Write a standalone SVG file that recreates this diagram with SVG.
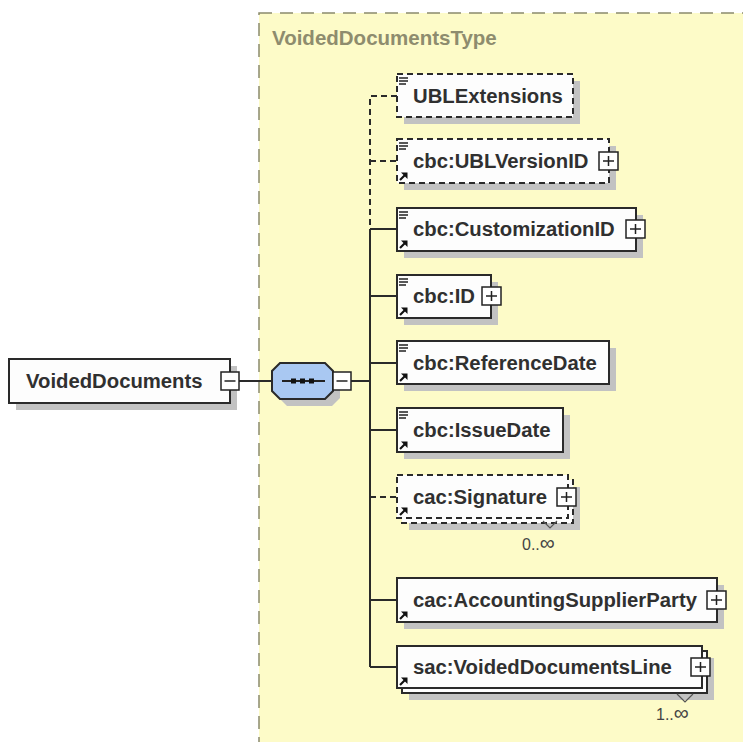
<svg xmlns="http://www.w3.org/2000/svg" width="743" height="742" viewBox="0 0 743 742">
<style>
.lbl{font-family:"Liberation Sans",Arial,sans-serif;font-weight:bold;font-size:20.3px;fill:#303030}
.occ{font-family:"Liberation Sans",Arial,sans-serif;font-size:16px;fill:#444}
.inf{font-size:21px}
.box{fill:#fdfdfd;stroke:#2a2a2a;stroke-width:2}
.dbox{fill:#fdfdfd;stroke:#2a2a2a;stroke-width:2;stroke-dasharray:6,4}
.sh{fill:#c2c2c2}
.con{fill:none;stroke:#2a2a2a;stroke-width:2}
.dcon{fill:none;stroke:#2a2a2a;stroke-width:2;stroke-dasharray:6,4}
.pm{fill:#fff;stroke:#222;stroke-width:1.5}
</style>
<defs>
<g id="doc"><path d="M2,4H11M2,7H11M2,10H9" stroke="#222" stroke-width="1.6" fill="none"/></g>
<g id="ref"><path d="M3,-3L8,-8" stroke="#111" stroke-width="2.2" fill="none"/><polygon points="10.5,-10.5 4,-10.5 10.5,-4" fill="#111"/></g>
<g id="plus"><rect class="pm" x="0" y="0" width="19" height="18"/><path d="M4,9H15M9.5,4V14" stroke="#222" stroke-width="1.5"/></g>
<g id="minus"><rect class="pm" x="0" y="0" width="18" height="18"/><path d="M3.5,9H14.5" stroke="#222" stroke-width="1.5"/></g>
</defs>
<rect x="0" y="0" width="743" height="742" fill="#fff"/>
<g id="VoidedDocumentsType">
<rect x="259" y="13" width="500" height="740" fill="#fdfbc8" stroke="#8b8a6c" stroke-width="1.5" stroke-dasharray="13,8"/>
<text x="272" y="45" style="font-family:'Liberation Sans',Arial,sans-serif;font-weight:bold;font-size:20.5px;fill:#8e8c6e">VoidedDocumentsType</text>
</g>
<g id="connectors">
<path class="con" d="M239,381H272M351,381H370"/>
<path class="dcon" d="M397,96H370V229"/>
<path class="dcon" d="M370,161H397"/>
<path class="dcon" d="M370,497H397"/>
<path class="con" d="M370,229V667M370,229H397M370,296H397M370,363H397M370,430H397M370,600H397M370,667H397"/>
</g>
<g id="VoidedDocuments">
<rect class="sh" x="16" y="366" width="221" height="44"/>
<rect class="box" x="9" y="359" width="221" height="44"/>
<text class="lbl" x="26" y="388">VoidedDocuments</text>
<use href="#minus" x="221" y="372"/>
</g>
<g id="sequence">
<polygon class="sh" points="287,370 332,370 340,378 340,398 332,406 287,406 279,398 279,378"/>
<polygon points="280,363 325,363 333,371 333,391 325,399 280,399 272,391 272,371" fill="#a9c8f2" stroke="#2a2a2a" stroke-width="2"/>
<path d="M282,381H325" stroke="#222" stroke-width="1.8"/>
<rect x="291" y="378.5" width="5" height="5" fill="#111"/>
<rect x="300" y="378.5" width="5" height="5" fill="#111"/>
<rect x="309" y="378.5" width="5" height="5" fill="#111"/>
<use href="#minus" x="333" y="372"/>
</g>
<g id="UBLExtensions">
<rect class="sh" x="404" y="81" width="176" height="43"/>
<rect class="dbox" x="397" y="74" width="176" height="43"/>
<use href="#doc" x="397" y="74"/>
<text class="lbl" x="413" y="103">UBLExtensions</text>
</g>
<g id="UBLVersionID">
<rect class="sh" x="404" y="146" width="212" height="44"/>
<rect class="dbox" x="397" y="139" width="212" height="44"/>
<use href="#doc" x="397" y="139"/>
<use href="#ref" x="397" y="183"/>
<text class="lbl" x="413" y="168">cbc:UBLVersionID</text>
<use href="#plus" x="599" y="152"/>
</g>
<g id="CustomizationID">
<rect class="sh" x="404" y="215" width="239" height="43"/>
<rect class="box" x="397" y="208" width="239" height="43"/>
<use href="#doc" x="397" y="208"/>
<use href="#ref" x="397" y="251"/>
<text class="lbl" x="413" y="236">cbc:CustomizationID</text>
<use href="#plus" x="626" y="220"/>
</g>
<g id="ID">
<rect class="sh" x="404" y="282" width="94" height="43"/>
<rect class="box" x="397" y="275" width="94" height="43"/>
<use href="#doc" x="397" y="275"/>
<use href="#ref" x="397" y="318"/>
<text class="lbl" x="413" y="303">cbc:ID</text>
<use href="#plus" x="482" y="287"/>
</g>
<g id="ReferenceDate">
<rect class="sh" x="404" y="348" width="212" height="43"/>
<rect class="box" x="397" y="341" width="212" height="43"/>
<use href="#doc" x="397" y="341"/>
<use href="#ref" x="397" y="384"/>
<text class="lbl" x="413" y="370">cbc:ReferenceDate</text>
</g>
<g id="IssueDate">
<rect class="sh" x="404" y="415" width="166" height="44"/>
<rect class="box" x="397" y="408" width="166" height="44"/>
<use href="#doc" x="397" y="408"/>
<use href="#ref" x="397" y="452"/>
<text class="lbl" x="413" y="437">cbc:IssueDate</text>
</g>
<g id="Signature">
<rect class="sh" x="409" y="487" width="171" height="43"/>
<rect class="dbox" x="402" y="480" width="171" height="43"/>
<rect class="dbox" x="397" y="475" width="171" height="43"/>
<use href="#ref" x="397" y="518"/>
<text class="lbl" x="413" y="504">cac:Signature</text>
<use href="#plus" x="557" y="488"/>
<path d="M543,521L550,528L557,521" fill="none" stroke="#555" stroke-width="1.2"/>
<text class="occ" x="522" y="550">0..<tspan class="inf">∞</tspan></text>
</g>
<g id="AccountingSupplierParty">
<rect class="sh" x="404" y="585" width="320" height="44"/>
<rect class="box" x="397" y="578" width="320" height="44"/>
<use href="#ref" x="397" y="622"/>
<text class="lbl" x="413" y="607">cac:AccountingSupplierParty</text>
<use href="#plus" x="707" y="591"/>
</g>
<g id="VoidedDocumentsLine">
<rect class="sh" x="409" y="658" width="305" height="42"/>
<rect class="box" x="402" y="651" width="305" height="42"/>
<rect class="box" x="397" y="646" width="305" height="42"/>
<use href="#ref" x="397" y="688"/>
<text class="lbl" x="413" y="674">sac:VoidedDocumentsLine</text>
<use href="#plus" x="691" y="658"/>
<path d="M677,694L685,702L693,694" fill="none" stroke="#555" stroke-width="1.2"/>
<text class="occ" x="656" y="720">1..<tspan class="inf">∞</tspan></text>
</g>
</svg>
